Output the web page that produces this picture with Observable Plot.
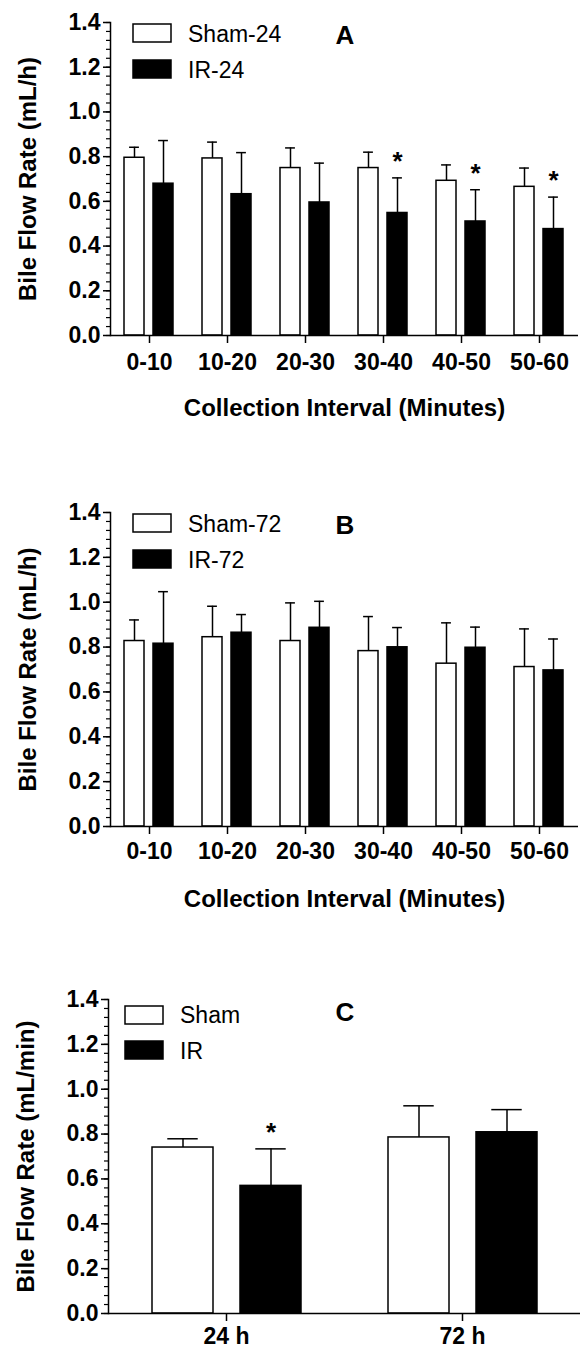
<!DOCTYPE html>
<html>
<head>
<meta charset="utf-8">
<script src="https://cdn.jsdelivr.net/npm/d3@7"></script>
<script src="https://cdn.jsdelivr.net/npm/@observablehq/plot@0.6"></script>
<style>
  body { margin: 0; background: #fff; }
  #root { width: 580px; }
  #root svg { display: block; }
  g[aria-label="fx-axis label"] text { font-size: 24px; }
  g[aria-label="y-axis label"] text { font-size: 24px; }
</style>
</head>
<body>
<div id="root"></div>
<script>
// ---------- data ----------
const intervals = ["0-10", "10-20", "20-30", "30-40", "40-50", "50-60"];
const timepoints = ["24 h", "72 h"];

const groupsA = ["Sham-24", "IR-24"];
const shamA = [0.795, 0.792, 0.749, 0.749, 0.692, 0.665];
const shamA_sd = [0.047, 0.073, 0.090, 0.071, 0.071, 0.084];
const irA = [0.679, 0.632, 0.595, 0.548, 0.510, 0.476];
const irA_sd = [0.193, 0.186, 0.176, 0.157, 0.142, 0.143];
const sigA = ["", "", "", "*", "*", "*"];

const groupsB = ["Sham-72", "IR-72"];
const shamB = [0.827, 0.844, 0.827, 0.782, 0.726, 0.711];
const shamB_sd = [0.094, 0.138, 0.170, 0.154, 0.182, 0.170];
const irB = [0.815, 0.864, 0.886, 0.799, 0.797, 0.696];
const irB_sd = [0.232, 0.081, 0.118, 0.088, 0.092, 0.140];
const sigB = ["", "", "", "", "", ""];

const groupsC = ["Sham", "IR"];
const shamC = [0.740, 0.785];
const shamC_sd = [0.039, 0.141];
const irC = [0.569, 0.808];
const irC_sd = [0.165, 0.101];
const sigC = ["*", ""];

const yTicks = [0, 0.2, 0.4, 0.6, 0.8, 1.0, 1.2, 1.4];
const yLabelA = "Bile Flow Rate (mL/h)";
const yLabelC = "Bile Flow Rate (mL/min)";
const xLabelAB = "Collection Interval (Minutes)";

// ---------- drawing ----------
const FONT = "'Liberation Sans', Arial, Helvetica, sans-serif";
const W = 580, ML = 107;
const PI = 0.31, PO = 0.49;

function panel(cfg) {
  const {categories, groups, means, sds, sig, letter, yLabel, xLabel,
         height, marginTop, marginBottom, tickPadding, labelOffset, legend} = cfg;
  const rows = [];
  categories.forEach((c, i) => {
    groups.forEach((g, j) => {
      rows.push({cat: c, group: g, mean: means[j][i], sd: sds[j][i],
                 top: means[j][i] + sds[j][i], sig: j === 1 ? sig[i] : ""});
    });
  });
  const step = (W - ML) / categories.length;
  const bw = step / (2 - PI + 2 * PO) * (1 - PI);
  const minor = d3.range(0, 36).map(i => i * 0.04);

  const plot = Plot.plot({
    width: W, height, marginLeft: ML, marginRight: 0, marginTop, marginBottom,
    style: {fontFamily: FONT, fontWeight: "bold", color: "black", background: "white", overflow: "visible"},
    fx: {domain: categories, padding: 0, label: xLabel},
    x: {domain: groups, axis: null, paddingInner: PI, paddingOuter: PO},
    y: {domain: [0, 1.4], axis: null},
    color: {domain: groups, range: ["white", "black"]},
    marks: [
      Plot.ruleX(rows, {fx: "cat", x: "group", y1: "mean", y2: "top", stroke: "black", strokeWidth: 1.5}),
      Plot.tickY(rows, {fx: "cat", x: "group", y: "top", stroke: "black", strokeWidth: 1.5, inset: bw / 4}),
      Plot.barY(rows, {fx: "cat", x: "group", y: "mean", fill: "group", stroke: "black", strokeWidth: 1.5}),
      Plot.text(rows.filter(d => d.sig), {fx: "cat", x: "group", y: "top", text: "sig", dy: -16, fontSize: 26, fontWeight: "bold", fill: "black"}),
      Plot.ruleY([0], {stroke: "black", strokeWidth: 1.5}),
      Plot.frame({anchor: "left", facetAnchor: "left", stroke: "black", strokeWidth: 1.5}),
      Plot.axisY({ticks: minor, tickSize: 4, tickFormat: () => "", label: null, strokeWidth: 1.2}),
      Plot.axisY({ticks: yTicks, tickSize: 7, tickPadding: 3, tickFormat: d3.format(".1f"),
                  fontSize: 23, strokeWidth: 1.5, label: yLabel, labelAnchor: "center",
                  labelOffset: 92, labelArrow: "none"}),
      Plot.axisFx({anchor: "bottom", tickSize: 8, tickPadding, fontSize: 23, strokeWidth: 1.5,
                   label: xLabel, labelAnchor: "center", labelOffset, labelArrow: "none"})
    ]
  });

  // in-frame legend and panel letter
  const svg = d3.select(plot);
  const lg = svg.append("g").attr("font-family", FONT).attr("text-anchor", "start");
  groups.forEach((g, j) => {
    lg.append("rect")
      .attr("x", legend.x).attr("y", marginTop + legend.rectDy[j])
      .attr("width", 38).attr("height", 18)
      .attr("fill", j === 0 ? "white" : "black")
      .attr("stroke", "black").attr("stroke-width", 1.5);
    lg.append("text")
      .attr("x", legend.textX).attr("y", marginTop + legend.textDy[j])
      .attr("text-anchor", "start")
      .attr("font-size", 23).attr("font-weight", "normal").attr("fill", "black")
      .text(g);
  });
  lg.append("text")
    .attr("x", 345).attr("y", marginTop + legend.letterDy)
    .attr("text-anchor", "middle")
    .attr("font-size", 26).attr("font-weight", "bold").attr("fill", "black")
    .text(letter);
  return plot;
}

const root = document.getElementById("root");
root.append(panel({
  categories: intervals, groups: groupsA, means: [shamA, irA], sds: [shamA_sd, irA_sd], sig: sigA,
  letter: "A", yLabel: yLabelA, xLabel: xLabelAB,
  height: 430, marginTop: 22, marginBottom: 95, tickPadding: 10, labelOffset: 80,
  legend: {x: 133, textX: 188, rectDy: [2, 38], textDy: [20, 56], letterDy: 22}
}));
root.append(panel({
  categories: intervals, groups: groupsB, means: [shamB, irB], sds: [shamB_sd, irB_sd], sig: sigB,
  letter: "B", yLabel: yLabelA, xLabel: xLabelAB,
  height: 490, marginTop: 82, marginBottom: 94, tickPadding: 8, labelOffset: 80,
  legend: {x: 133, textX: 188, rectDy: [2, 38], textDy: [20, 56], letterDy: 22}
}));
root.append(panel({
  categories: timepoints, groups: groupsC, means: [shamC, irC], sds: [shamC_sd, irC_sd], sig: sigC,
  letter: "C", yLabel: yLabelC, xLabel: null,
  height: 427, marginTop: 79, marginBottom: 34, tickPadding: 6, labelOffset: 30,
  legend: {x: 125, textX: 180, rectDy: [7, 42], textDy: [24, 60], letterDy: 22}
}));
</script>
</body>
</html>
